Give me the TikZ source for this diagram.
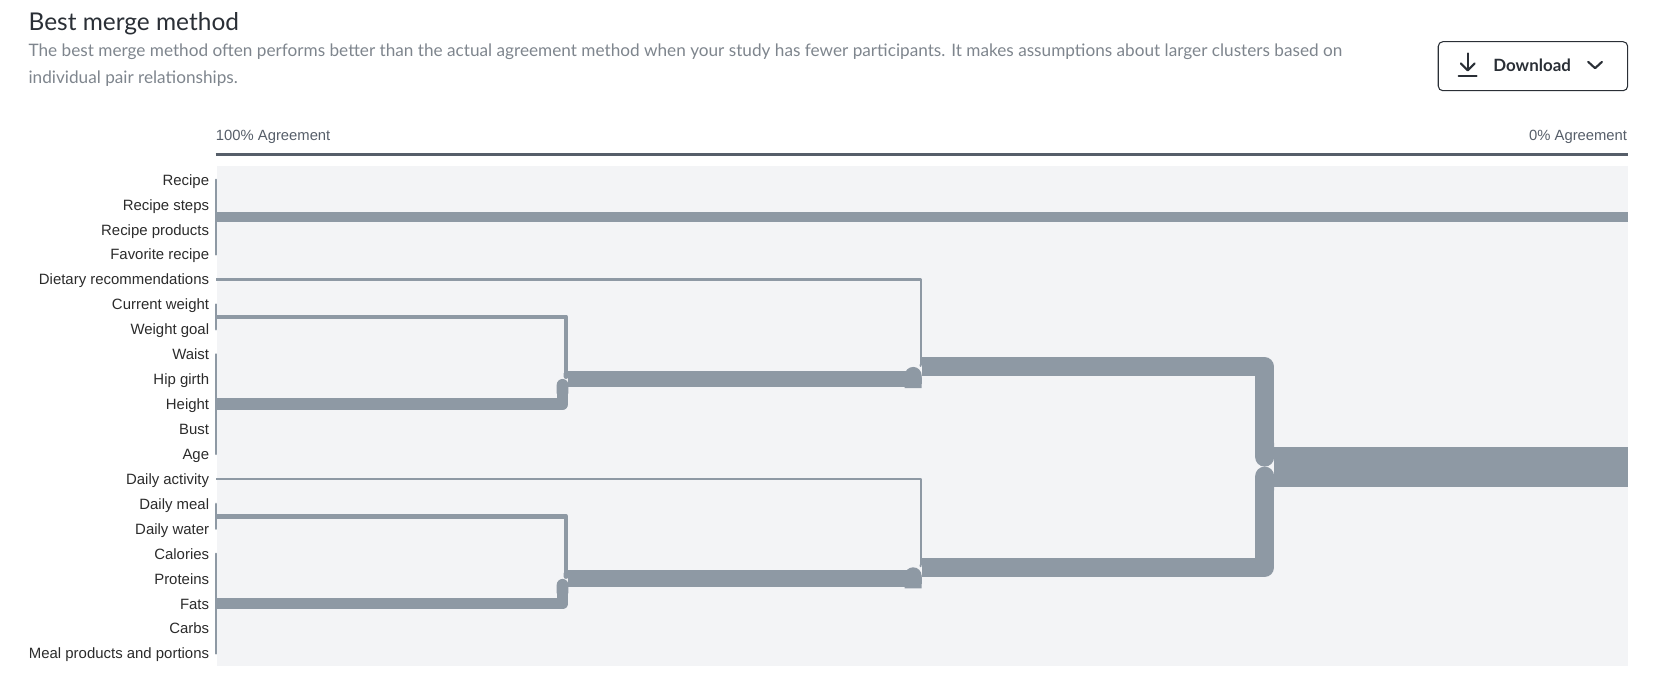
\documentclass[tikz,border=0pt]{standalone}
\usepackage{fontspec}
\setmainfont{Liberation Sans}
\newfontfamily\headfont{Lato}
\usetikzlibrary{arrows.meta}

\definecolor{barcol}{HTML}{8E99A4}
\definecolor{panelcol}{HTML}{F3F4F6}
\definecolor{axiscol}{HTML}{565E69}
\definecolor{labelcol}{HTML}{2B2B2B}
\definecolor{desccol}{HTML}{7E858D}
\definecolor{titlecol}{HTML}{2A2F36}

\tikzset{
    lbl/.style={anchor=east, inner sep=0pt, text height=8.1pt, text depth=0pt,
        text=labelcol, font=\fontsize{11.3}{13}\selectfont},
    axislbl/.style={inner sep=0pt, text=axiscol, font=\fontsize{11.2}{13}\selectfont},
    leaf/.style={draw=barcol, line width=1.76pt, line cap=round},
    branch/.style={draw=barcol, line join=round, -{Round Cap[]}},
    bar/.style={draw=barcol, line cap=butt},
    w2/.style={line width=1.6pt},
    w4/.style={line width=3.6pt},
    w9/.style={line width=7.2pt},
    w11/.style={line width=8.8pt},
    w16/.style={line width=12.8pt},
    w18/.style={line width=14.4pt},
    w38/.style={line width=30.4pt},
    icon/.style={draw=titlecol, line width=1.6pt, line cap=round, line join=round}
}

\begin{document}
\begin{tikzpicture}[x=0.8pt, y=-0.8pt]
    \useasboundingbox (0, 0) rectangle (1568, 654.4);

    % heading
    \node[anchor=base west, inner sep=0pt, text=titlecol, font=\headfont\fontsize{18.5}{22}\selectfont] (title) at (26.8, 28.4) {Best merge method};
    \node[anchor=base west, inner sep=0pt, text=desccol, font=\headfont\fontsize{13}{15}\selectfont] (desc1) at (26.8, 53.6) {The best merge method often performs better than the actual agreement method when your study has fewer participants. It makes assumptions about larger clusters based on};
    \node[anchor=base west, inner sep=0pt, text=desccol, font=\headfont\fontsize{13}{15}\selectfont] (desc2) at (26.8, 78.8) {individual pair relationships.};

    % download button
    \node[draw=titlecol, line width=0.8pt, rounded corners=3.5pt, minimum width=143.3pt, minimum height=37.1pt] (btn) at (1449.75, 62.6) {};
    \node[anchor=base west, inner sep=0pt, text=titlecol, font=\headfont\bfseries\fontsize{12.8}{14}\selectfont] (dltext) at (1412, 67.5) {Download};
    \draw[icon] (1388, 50.5) -- (1388, 66);
    \draw[icon] (1381.5, 60) -- (1388, 66.5) -- (1394.5, 60);
    \draw[icon] (1379.5, 71.5) -- (1396.5, 71.5);
    \draw[icon] (1502, 58.5) -- (1508.5, 64.5) -- (1515, 58.5);

    % axis
    \node[axislbl, anchor=base west] (full) at (204, 133) {100\% Agreement};
    \node[axislbl, anchor=base east] (none) at (1539, 133) {0\% Agreement};
    \coordinate (axL) at (204, 146);
    \coordinate (axR) at (1539.3, 146);
    \draw[draw=axiscol, line width=2.2pt] (axL) -- (axR);

    % panel
    \fill[panelcol] (205.5, 157) rectangle (1539.3, 630);

    % labels
    \node[lbl] (l0) at (198, 170.0) {Recipe};
    \node[lbl] (l1) at (198, 193.6) {Recipe steps};
    \node[lbl] (l2) at (198, 217.2) {Recipe products};
    \node[lbl] (l3) at (198, 240.7) {Favorite recipe};
    \node[lbl] (l4) at (198, 264.3) {Dietary recommendations};
    \node[lbl] (l5) at (198, 287.9) {Current weight};
    \node[lbl] (l6) at (198, 311.5) {Weight goal};
    \node[lbl] (l7) at (198, 335.1) {Waist};
    \node[lbl] (l8) at (198, 358.6) {Hip girth};
    \node[lbl] (l9) at (198, 382.2) {Height};
    \node[lbl] (l10) at (198, 405.8) {Bust};
    \node[lbl] (l11) at (198, 429.4) {Age};
    \node[lbl] (l12) at (198, 453.0) {Daily activity};
    \node[lbl] (l13) at (198, 476.5) {Daily meal};
    \node[lbl] (l14) at (198, 500.1) {Daily water};
    \node[lbl] (l15) at (198, 523.7) {Calories};
    \node[lbl] (l16) at (198, 547.3) {Proteins};
    \node[lbl] (l17) at (198, 570.9) {Fats};
    \node[lbl] (l18) at (198, 594.4) {Carbs};
    \node[lbl] (l19) at (198, 618.0) {Meal products and portions};

    % leaf groups
    \coordinate (rail) at (204.4, 0);
    \draw[leaf] (l0 -| rail) -- (l3 -| rail);
    \draw[leaf] (l5 -| rail) -- (l6 -| rail);
    \draw[leaf] (l7 -| rail) -- (l11 -| rail);
    \draw[leaf] (l13 -| rail) -- (l14 -| rail);
    \draw[leaf] (l15 -| rail) -- (l19 -| rail);

    \coordinate (gA) at (204.4, 205.4);
    \coordinate (gD) at (204.4, 264.3);
    \coordinate (gW) at (204.4, 299.7);
    \coordinate (gB) at (204.4, 382.2);
    \coordinate (gL) at (204.4, 453.0);
    \coordinate (gM) at (204.4, 488.3);
    \coordinate (gF) at (204.4, 570.9);
    \coordinate (endA) at (1539.3, 205.4);

    % merge points
    \coordinate (jWB) at (537.5, 358.4);
    \coordinate (jDWB) at (871.6, 347.0);
    \coordinate (jMF) at (537.5, 547.5);
    \coordinate (jLMF) at (871.6, 536.5);
    \coordinate (jAll) at (1205, 441.3);
    \coordinate (endAll) at (1539.3, 441.3);

    \coordinate (kW) at (535.25, 358.4);
    \coordinate (kB) at (532.0, 358.4);
    \coordinate (kD) at (870.6, 347.0);
    \coordinate (kWB) at (863.6, 347.0);
    \coordinate (kM) at (535.25, 547.5);
    \coordinate (kF) at (532.0, 547.5);
    \coordinate (kL) at (870.6, 536.5);
    \coordinate (kMF) at (863.6, 536.5);
    \coordinate (kAll) at (1196, 441.3);

    % tree
    \draw[bar, w9] (gA) -- (endA);
    \draw[branch, w2] (gD) -| (kD);
    \draw[branch, w4] (gW) -| (kW);
    \draw[branch, w11] (gB) -| (kB);
    \draw[branch, w16] (jWB) -| (kWB);
    \draw[branch, w18] (jDWB) -| (kAll);
    \draw[branch, w2] (gL) -| (kL);
    \draw[branch, w4] (gM) -| (kM);
    \draw[branch, w11] (gF) -| (kF);
    \draw[branch, w16] (jMF) -| (kMF);
    \draw[branch, w18] (jLMF) -| (kAll);
    \draw[bar, w38] (jAll) -- (endAll);
\end{tikzpicture}
\end{document}
